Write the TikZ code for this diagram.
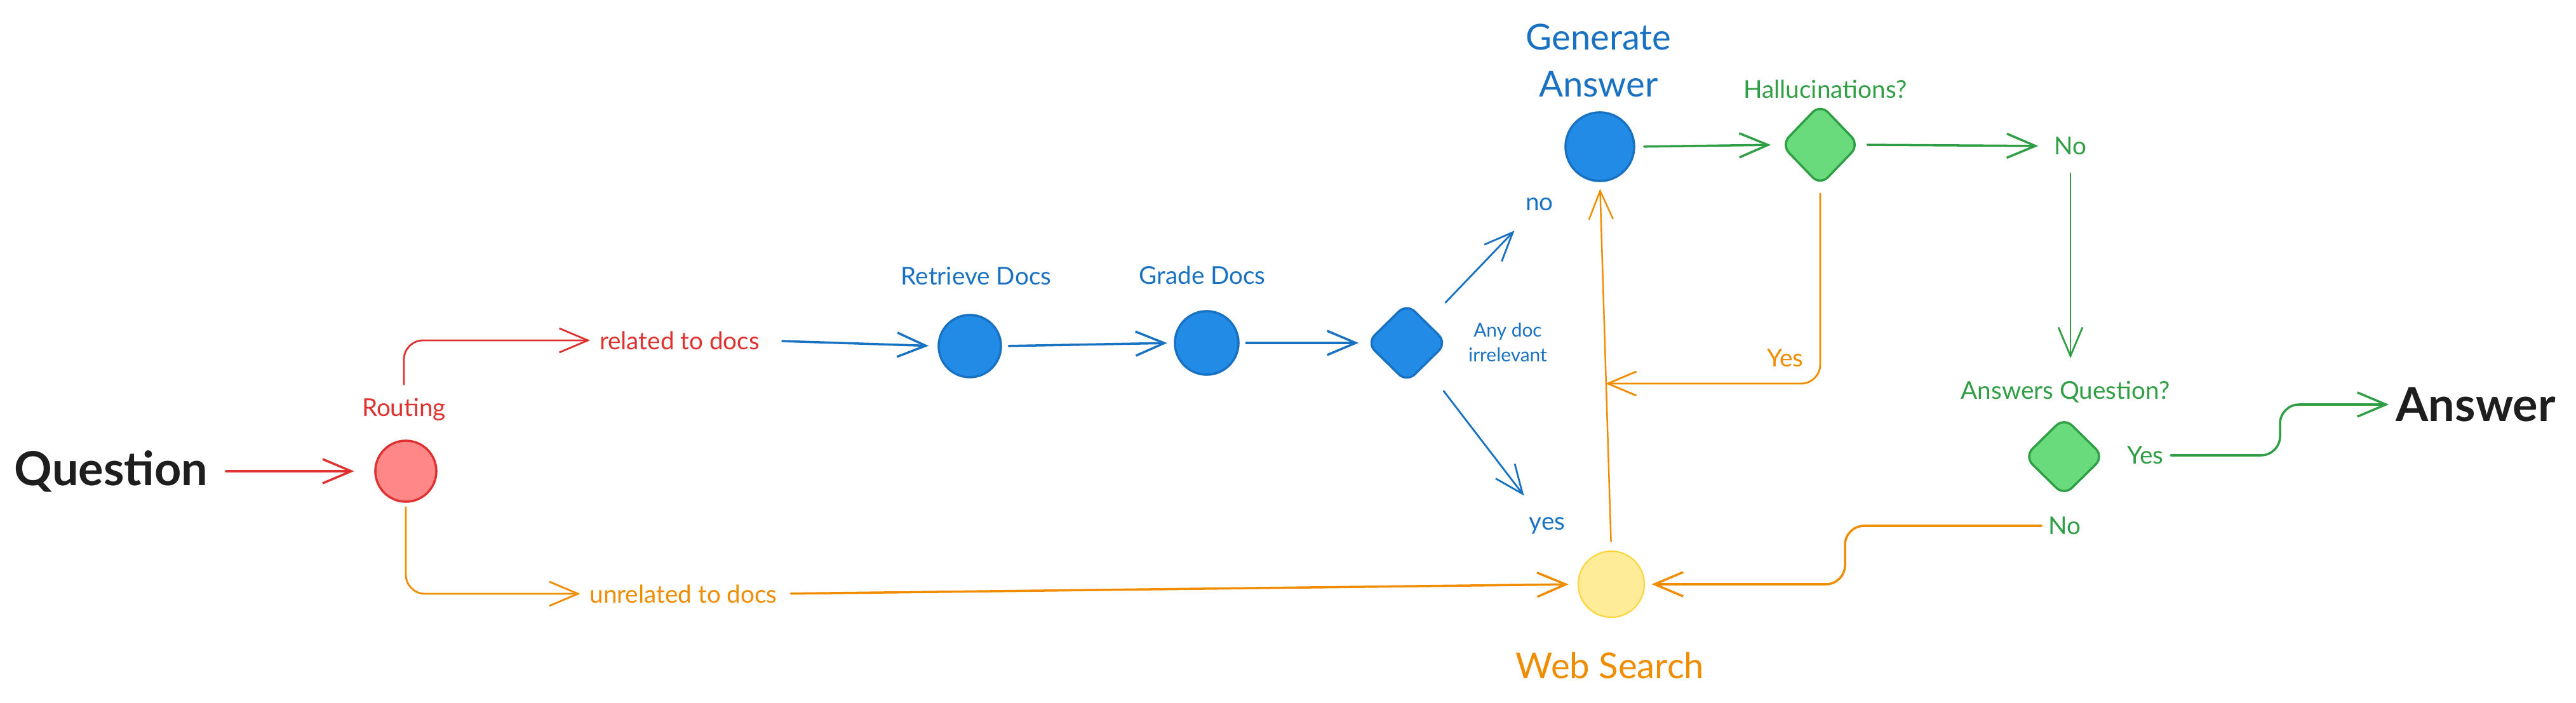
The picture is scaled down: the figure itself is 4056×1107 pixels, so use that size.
\documentclass[tikz,border=0pt]{standalone}
\usepackage{fontspec}
\setmainfont{Lato}
\usetikzlibrary{arrows.meta,shapes.geometric,calc}
\definecolor{cred}{HTML}{E03131}
\definecolor{credfill}{HTML}{FF8787}
\definecolor{cblue}{HTML}{1971C2}
\definecolor{cbluefill}{HTML}{228BE6}
\definecolor{cgreen}{HTML}{2F9E44}
\definecolor{cgreenfill}{HTML}{69DB7C}
\definecolor{corange}{HTML}{F08C00}
\definecolor{cyel}{HTML}{FFEC99}
\definecolor{cyelline}{HTML}{FFD43B}
\definecolor{cink}{HTML}{1E1E1E}
\begin{document}
\begin{tikzpicture}[x=0.01cm,y=-0.01cm,
  lbl/.style={inner sep=0pt,font=\fontsize{11}{13}\selectfont},
  small/.style={inner sep=0pt,align=center,font=\fontsize{8.5}{11}\selectfont},
  big/.style={inner sep=0pt,align=center,font=\fontsize{16}{21}\selectfont},
  hand/.style={inner sep=0pt,text=cink,font=\fontsize{21}{24}\selectfont\bfseries},
  dot/.style={circle,line width=1pt,inner sep=0pt},
  dia/.style={diamond,line width=1pt,inner sep=0pt,rounded corners=5pt},
  conn/.style={line width=1pt,line cap=round,-{Straight Barb[length=0.45cm,width=0.38cm]}},
]
\useasboundingbox (0,0) rectangle (4056,1107);

% nodes
\node[hand] (question) at (175,742) {Question};
\node[dot,draw=cred,fill=credfill,minimum size=0.96cm] (routing) at (639,742) {};
\node[lbl,text=cred] (routinglbl) at (636,645) {Routing};
\node[lbl,text=cred] (related) at (1070,536) {related to docs};
\node[lbl,text=corange] (unrelated) at (1076,935) {unrelated to docs};

\node[dot,draw=cblue,fill=cbluefill,minimum size=0.98cm] (retrieve) at (1527,545) {};
\node[lbl,text=cblue] (retrievelbl) at (1537,435) {Retrieve Docs};
\node[dot,draw=cblue,fill=cbluefill,minimum size=1.0cm] (grade) at (1900,540) {};
\node[lbl,text=cblue] (gradelbl) at (1893,433) {Grade Docs};
\node[dia,draw=cblue,fill=cbluefill,minimum width=1.27cm,minimum height=1.25cm] (d1) at (2215,540) {};
\node[small,text=cblue] (anydoc) at (2374,539) {Any doc\\irrelevant};
\node[lbl,text=cblue] (nolbl) at (2424,322) {no};
\node[lbl,text=cblue] (yeslbl) at (2436,828) {yes};

\node[dot,draw=cblue,fill=cbluefill,minimum size=1.08cm] (gen) at (2519,231) {};
\node[big,text=cblue] (genlbl) at (2517,95) {Generate\\Answer};
\node[dia,draw=cgreen,fill=cgreenfill,minimum width=1.24cm,minimum height=1.29cm] (hall) at (2866,228) {};
\node[lbl,text=cgreen] (halllbl) at (2874,140) {Hallucinations?};
\node[lbl,text=cgreen] (no1) at (3260,230) {No};
\node[lbl,text=corange] (yes1) at (2811,564) {Yes};

\node[lbl,text=cgreen] (ansqlbl) at (3252,617) {Answers Question?};
\node[dia,draw=cgreen,fill=cgreenfill,minimum width=1.26cm,minimum height=1.24cm] (ansq) at (3250,719) {};
\node[lbl,text=cgreen] (yes2) at (3378,717) {Yes};
\node[lbl,text=cgreen] (no2) at (3251,828) {No};
\node[hand] (answer) at (3898,637) {Answer};

\node[dot,draw=cyelline,fill=cyel,line width=0.6pt,minimum size=1.04cm] (web) at (2537,920) {};
\node[big,text=corange] (weblbl) at (2535,1048) {Web Search};

\coordinate (yesjoin) at (2528,604);
\coordinate (bend2) at (2905,878);
\coordinate (bend3) at (3590,680);

% connectors
\draw[conn,cred,shorten <=8pt,shorten >=9pt] (question.east) -- (routing.west);
\draw[conn,cred,line width=0.8pt,rounded corners=0.3cm,shorten <=6pt,shorten >=4pt]
  (routinglbl.north) |- (related.west);
\draw[conn,cblue,shorten <=10pt,shorten >=4pt] (related.east) -- (retrieve.west);
\draw[conn,cblue,shorten <=3pt,shorten >=3pt] (retrieve.east) -- (grade.west);
\draw[conn,cblue,shorten <=3pt,shorten >=3pt] (grade.east) -- (d1.west);
\draw[conn,cblue,line width=0.8pt,shorten <=12pt,shorten >=12pt] (d1) -- (nolbl);
\draw[conn,cblue,line width=0.8pt,shorten <=14pt,shorten >=12pt] (d1) -- (yeslbl);

\draw[conn,corange,line width=0.8pt,rounded corners=0.3cm,shorten <=2pt,shorten >=4pt]
  (routing.south) |- (unrelated.west);
\draw[conn,corange,shorten <=6pt,shorten >=4pt] (unrelated.east) -- (web.west);
\draw[conn,corange,line width=0.7pt,shorten <=4pt,shorten >=3pt] (web.north) -- (gen.south);
\draw[conn,corange,line width=0.8pt,rounded corners=0.3cm,shorten <=3pt]
  (hall.south) |- (yesjoin);

\draw[conn,cgreen,shorten <=4pt,shorten >=4pt] (gen.east) -- (hall.west);
\draw[conn,cgreen,shorten <=3pt,shorten >=7pt] (hall.east) -- (no1.west);
\draw[conn,cgreen,line width=0.8pt,shorten <=8pt,shorten >=10pt] (no1.south) -- (no1.south |- ansqlbl.north);

\draw[conn,corange,rounded corners=0.3cm,shorten <=3pt,shorten >=3pt]
  (no2.west) -- (no2.west -| bend2) -- (bend2 |- web.east) -- (web.east);
\draw[conn,cgreen,rounded corners=0.3cm,shorten <=3pt,shorten >=3pt]
  (yes2.east) -- (yes2.east -| bend3) -- (bend3 |- answer.west) -- (answer.west);
\end{tikzpicture}
\end{document}
